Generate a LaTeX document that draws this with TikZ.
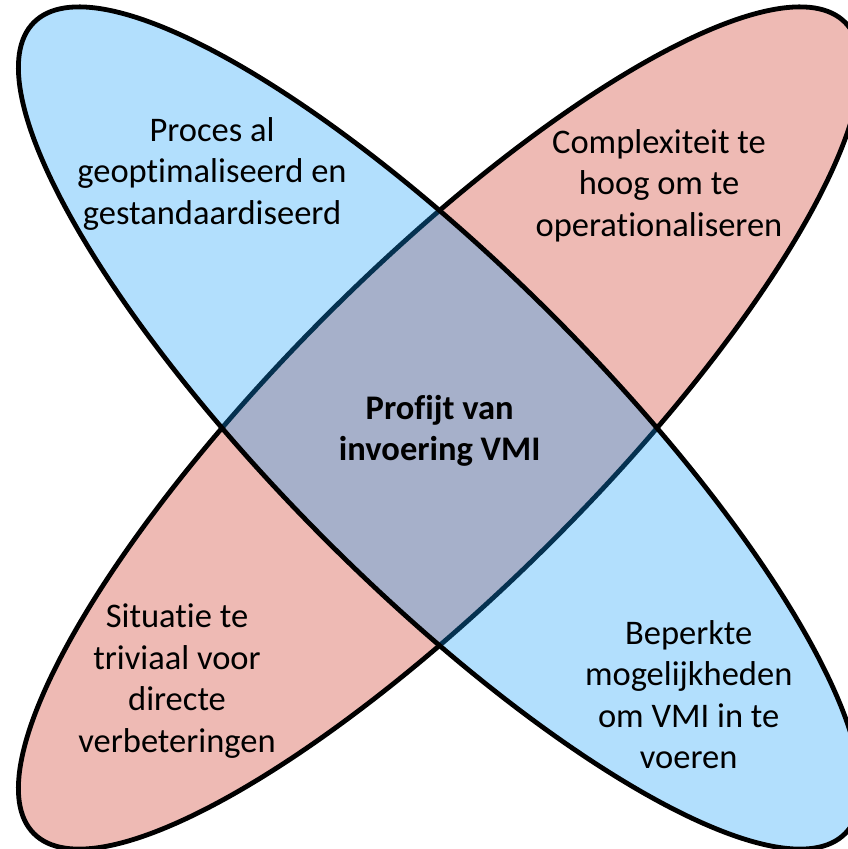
\documentclass[tikz,border=0pt]{standalone}
\usepackage{fontspec}
\setmainfont[Ligatures=NoCommon]{Carlito}
\definecolor{redfill}{RGB}{238,186,180}
\definecolor{bluefill}{RGB}{17,155,249}
\tikzset{
  petal/.style={line width=4.8pt, draw=black},
  label/.style={inner sep=0pt, align=center, font=\fontsize{34.5pt}{41.5pt}\selectfont, text=black},
}
\begin{document}
\begin{tikzpicture}[x=1pt,y=1pt]
\useasboundingbox (0,0) rectangle (848,849);
\clip (0,0) rectangle (848,849);
\coordinate (c) at (439.5,421);
\draw[petal, fill=redfill, rotate around={45:(c)}] (c) ellipse [x radius=573.6, y radius=159.6];
\draw[petal, fill=bluefill, fill opacity=0.32, rotate around={-45:(c)}] (c) ellipse [x radius=573.6, y radius=159.6];
\node[label] (tl) at (212,675.5) {Proces al\\geoptimaliseerd en\\gestandaardiseerd};
\node[label] (tr) at (659,663.5) {Complexiteit te\\hoog om te\\operationaliseren};
\node[label, font=\fontsize{34.5pt}{41.5pt}\selectfont\bfseries] (mid) at (439.7,418) {Profijt van\\invoering VMI};
\node[label] (bl) at (177,168) {Situatie te\\triviaal voor\\directe\\verbeteringen};
\node[label] (br) at (688.7,154.5) {Beperkte\\mogelijkheden\\om VMI in te\\voeren};
\end{tikzpicture}
\end{document}
